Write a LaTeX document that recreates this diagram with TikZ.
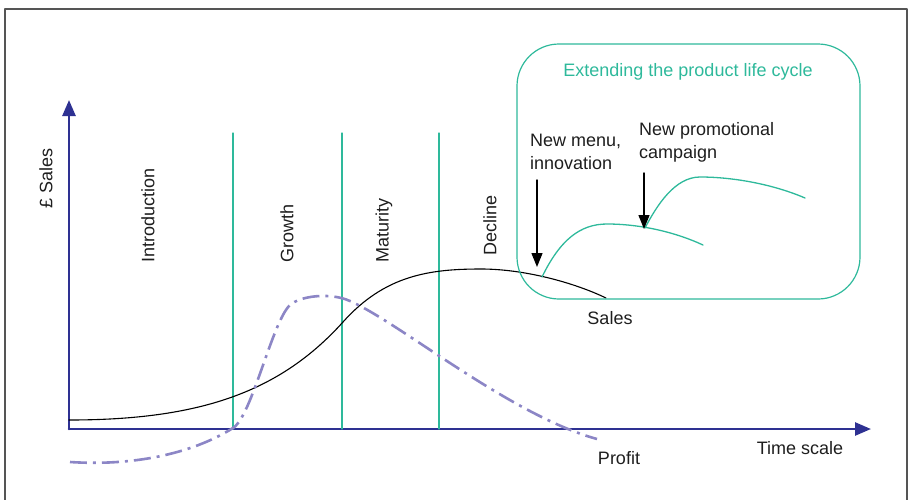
\documentclass[tikz,border=0pt]{standalone}
\usepackage{fontspec}
\setmainfont{Liberation Sans}
\usetikzlibrary{arrows.meta}
\definecolor{axisblue}{HTML}{2E3192}
\definecolor{cyclegreen}{HTML}{2EB99B}
\definecolor{profitlilac}{HTML}{8C86C6}
\definecolor{framegray}{HTML}{555555}
\definecolor{inkgray}{HTML}{1E1E1E}

\begin{document}
\begin{tikzpicture}[
      x=1pt, y=-1pt,
      line cap=round,
      line join=round,
      every node/.style={font=\fontsize{18}{23}\selectfont, inner sep=0pt, text=inkgray},
      axis/.style={axisblue, line width=2.6pt, -{Triangle[length=16pt, width=13pt]}},
      phaseline/.style={cyclegreen, line width=1.05pt},
      phase/.style={rotate=90, anchor=west},
      pointer/.style={black, line width=1.4pt, -{Triangle[length=14pt, width=11pt]}},
      cycle curve/.style={cyclegreen, line width=1.3pt},
    ]
    \useasboundingbox (0,0) rectangle (911,499);
    %% Frame (open at the bottom).
    \draw[framegray, line width=1.6pt] (5,520) -- (5,9) -- (907,9) -- (907,520);
    %% Axes.
    \coordinate (origin) at (69,429);
    \coordinate (ytip)   at (69,100);
    \coordinate (xtip)   at (871,429);
    \draw[axis] (origin) -- (ytip);
    \draw[axis] (origin) -- (xtip);
    %% Phase boundaries.
    \foreach \x/\n in {233/a, 342/b, 439/c} {
      \coordinate (top\n) at (\x,133);
      \coordinate (bot\n) at (\x,429);
      \draw[phaseline] (top\n) -- (bot\n);
    }
    %% Sales curve: flat start, inflection in growth, peak in decline.
    \draw[black, line width=1.1pt]
         (69,420)
      .. controls (200,420) and (280,392) .. (343,322)
      .. controls (385,275) and (430,269) .. (481,269)
      .. controls (525,269) and (575,283) .. (606,298);
    %% Profit curve: loss first, sharp rise, slow fall.
    \draw[profitlilac, line width=2.6pt, line cap=butt,
          dash pattern=on 17pt off 6pt on 3pt off 6pt]
         (70,462)
      .. controls (130,466) and (190,455) .. (233,428)
      .. controls (252,416) and (272,322) .. (290,305)
      .. controls (300,296) and (330,292) .. (350,301)
      .. controls (400,323) and (510,415) .. (597,439);
    %% Inset: extending the life cycle.
    \draw[cyclegreen, line width=1.2pt, rounded corners=42pt] (517,44) rectangle (860,299);
    \node[text=cyclegreen] (title) at (688,72) {Extending the product life cycle};
    \draw[cycle curve]
         (542,277)
      .. controls (560,240) and (580,224) .. (607,224)
      .. controls (640,224) and (675,232) .. (703,245);
    \draw[cycle curve]
         (645,228)
      .. controls (657,205) and (675,177) .. (700,177)
      .. controls (735,177) and (775,185) .. (805,198);
    \node[anchor=west, align=left] (menu)  at (530,152) {New menu,\\innovation};
    \node[anchor=west, align=left] (promo) at (639,142) {New promotional\\campaign};
    \coordinate (menutop)  at (537,180);
    \coordinate (menutip)  at (537,267);
    \coordinate (promotop) at (644,173);
    \coordinate (promotip) at (644,229);
    \draw[pointer] (menutop) -- (menutip);
    \draw[pointer] (promotop) -- (promotip);
    %% Labels.
    \node[rotate=90] (ylabel) at (46,178) {£ Sales};
    \node[phase] (intro)    at (148,263) {Introduction};
    \node[phase] (growth)   at (287,263) {Growth};
    \node[phase] (maturity) at (384,263) {Maturity};
    \node[phase] (decline)  at (490,256) {Decline};
    \node (sales)  at (610,318) {Sales};
    \node (profit) at (619,458) {Profit};
    \node (time)   at (800,448) {Time scale};
  \end{tikzpicture}
\end{document}
